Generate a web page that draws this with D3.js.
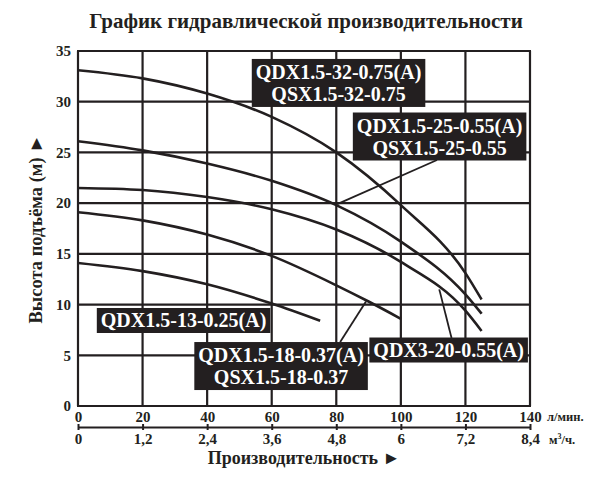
<!DOCTYPE html>
<html lang="ru">
<head>
<meta charset="utf-8">
<style>
  body { margin: 0; background: #fff; }
  svg text { font-family: "Liberation Serif", "Times New Roman", serif; font-weight: bold; fill: #231f20; }
  .grid line { stroke: #231f20; stroke-width: 2.2; }
  .curve { fill: none; stroke: #231f20; stroke-width: 2.6; }
  .leader { stroke: #231f20; stroke-width: 1.8; }
  .lbl rect { fill: #231f20; }
  .lbl text { fill: #fff; font-size: 20px; }
</style>
</head>
<body>
<script src="https://d3js.org/d3.v7.min.js"></script>
<script>
// flow (л/мин) and head (м)
var flowTicks = [0, 20, 40, 60, 80, 100, 120, 140];
var m3hTicks = [0, 1.2, 2.4, 3.6, 4.8, 6, 7.2, 8.4];
var headTicks = [0, 5, 10, 15, 20, 25, 30, 35];

var flowA = [0, 20, 40, 60, 80, 100, 120, 125];
var head32 = [33.1, 32.3, 30.8, 28.5, 25.0, 19.8, 13.1, 10.5];
var head25 = [26.1, 25.2, 23.9, 22.2, 19.8, 16.2, 11.0, 9.1];
var head20 = [21.5, 21.3, 20.6, 19.4, 17.4, 14.2, 9.4, 7.4];
var flow18 = [0, 20, 40, 60, 80, 90, 100];
var head18 = [19.1, 18.3, 16.9, 14.8, 11.9, 10.3, 8.6];
var flow13 = [0, 20, 40, 60, 75];
var head13 = [14.1, 13.3, 12.0, 10.1, 8.4];

var series = [
  {q: flowA, h: head32},
  {q: flowA, h: head25},
  {q: flowA, h: head20},
  {q: flow18, h: head18},
  {q: flow13, h: head13}
];

// label text, label centre (flow, head) and leader line ends
var labels = [
  {lines: ["QDX1.5-32-0.75(A)", "QSX1.5-32-0.75"], at: [80.7, 31.85], leader: null},
  {lines: ["QDX1.5-25-0.55(A)", "QSX1.5-25-0.55"], at: [112, 26.57], leader: [[111.2, 24.25], [80.3, 19.9]]},
  {lines: ["QDX1.5-13-0.25(A)"], at: [32.7, 8.43], leader: null},
  {lines: ["QDX1.5-18-0.37(A)", "QSX1.5-18-0.37"], at: [62.9, 3.94], leader: [[81.2, 6.3], [89.2, 10.3]]},
  {lines: ["QDX3-20-0.55(A)"], at: [114.8, 5.52], leader: [[115.7, 6.7], [111.9, 11.5]]}
];

var margin = {top: 51, left: 78, right: 70, bottom: 76},
    w = 452, h = 355;

var svg = d3.select("body").append("svg")
    .attr("width", 600).attr("height", 482);

svg.append("text")
    .attr("x", 306).attr("y", 28)
    .attr("text-anchor", "middle")
    .style("font-size", "21px")
    .text("График гидравлической производительности");

var g = svg.append("g")
    .attr("transform", "translate(" + margin.left + "," + margin.top + ")");

var x = d3.scaleLinear().domain([0, 140]).range([0, w]);
var x2 = d3.scaleLinear().domain([0, 8.4]).range([0, w]);
var y = d3.scaleLinear().domain([0, 35]).range([h, 0]);

// grid
var grid = g.append("g").attr("class", "grid");
grid.selectAll("line.v").data(flowTicks).enter().append("line")
    .attr("x1", d => x(d)).attr("x2", d => x(d))
    .attr("y1", 0).attr("y2", h);
grid.selectAll("line.h").data(headTicks).enter().append("line")
    .attr("x1", -1).attr("x2", w + 1)
    .attr("y1", d => y(d)).attr("y2", d => y(d));

// axes
var xAxis = g.append("g")
    .attr("transform", "translate(0," + h + ")")
    .call(d3.axisBottom(x).tickValues(flowTicks).tickSize(0).tickPadding(5));
xAxis.select(".domain").remove();

var x2Axis = g.append("g")
    .attr("transform", "translate(0," + (h + 21) + ")")
    .call(d3.axisBottom(x2).tickValues(m3hTicks).tickSize(3).tickSizeOuter(0).tickPadding(3)
      .tickFormat(d => String(d).replace(".", ",")));
x2Axis.select(".domain").attr("stroke", "#231f20").attr("stroke-width", 2);
x2Axis.selectAll(".tick line").attr("y1", -3).attr("stroke", "#231f20").attr("stroke-width", 2);

var yAxis = g.append("g")
    .call(d3.axisLeft(y).tickValues(headTicks).tickSize(0).tickPadding(7));
yAxis.select(".domain").remove();

g.selectAll(".tick text")
    .style("font-family", "Liberation Serif, serif")
    .style("font-weight", "bold")
    .style("font-size", "15px")
    .attr("fill", "#231f20");

svg.append("text")
    .attr("x", margin.left + w + 17).attr("y", margin.top + h + 15)
    .style("font-size", "12.5px")
    .text("л/мин.");
svg.append("text")
    .attr("x", margin.left + w + 19).attr("y", margin.top + h + 38)
    .style("font-size", "12.5px")
    .html("м<tspan dy='-5' style='font-size:8px'>3</tspan><tspan dy='5'>/ч.</tspan>");

svg.append("text")
    .attr("x", 304).attr("y", 464)
    .attr("text-anchor", "middle")
    .style("font-size", "18px")
    .text("Производительность ►");

svg.append("text")
    .attr("transform", "translate(42,229) rotate(-90)")
    .attr("text-anchor", "middle")
    .style("font-size", "18.5px")
    .text("Высота подъёма (м) ►");

// curves
var line = d3.line()
    .x(d => x(d[0])).y(d => y(d[1]))
    .curve(d3.curveMonotoneX);

g.selectAll("path.curve").data(series).enter().append("path")
    .attr("class", "curve")
    .attr("d", s => line(s.q.map((q, i) => [q, s.h[i]])));

// leaders
g.selectAll("line.leader").data(labels.filter(l => l.leader)).enter().append("line")
    .attr("class", "leader")
    .attr("x1", l => x(l.leader[0][0])).attr("y1", l => y(l.leader[0][1]))
    .attr("x2", l => x(l.leader[1][0])).attr("y2", l => y(l.leader[1][1]));

// labels
var lineGap = 22;
var lbl = g.selectAll("g.lbl").data(labels).enter().append("g")
    .attr("class", "lbl")
    .attr("transform", l => "translate(" + x(l.at[0]) + "," + y(l.at[1]) + ")");
var rects = lbl.append("rect");
var texts = lbl.append("text")
    .attr("text-anchor", "middle");
texts.selectAll("tspan").data(l => l.lines.map((t, i) => ({t: t, i: i, n: l.lines.length})))
  .enter().append("tspan")
    .attr("x", 0)
    .attr("y", d => (d.i - (d.n - 1) / 2) * lineGap + 7)
    .text(d => d.t);
lbl.each(function(l) {
  var n = l.lines.length;
  var bb = d3.select(this).select("text").node().getBBox();
  var bw = bb.width + 8, bh = n * lineGap + (n === 1 ? 3 : 4);
  d3.select(this).select("rect")
    .attr("x", -bw / 2).attr("y", -bh / 2)
    .attr("width", bw).attr("height", bh);
});
</script>
</body>
</html>
